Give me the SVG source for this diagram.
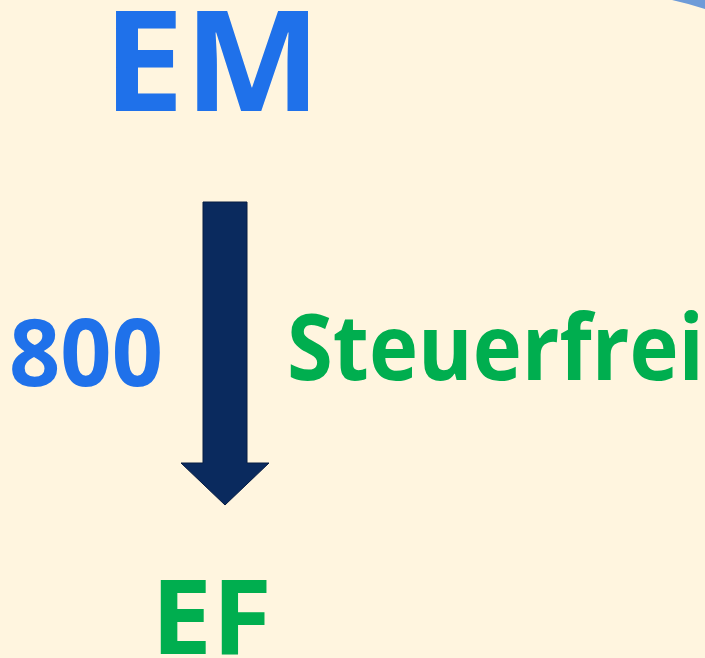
<svg xmlns="http://www.w3.org/2000/svg" width="705" height="658" viewBox="0 0 705 658">
<style>
.t{font-family:"Open Sans","Liberation Sans",sans-serif;font-weight:bold}
.b{fill:#1f71ea}
.g{fill:#00ae4f}
</style>
<rect width="705" height="658" fill="#fff5df"/>
<path d="M672,0 L705,0 L705,9 Q690,4 672,0 Z" fill="#6e9bd8"/>
<g id="em"><text class="t b" x="103" y="111" font-size="140" textLength="218" lengthAdjust="spacingAndGlyphs">EM</text></g>
<g id="ef"><text class="t g" x="151" y="654" font-size="104" textLength="121" lengthAdjust="spacingAndGlyphs">EF</text></g>
<g id="connectors">
<path d="M203,202 L247,202 L247,463 L269,463 L225,505 L181,463 L203,463 Z" fill="#0a2a5e" stroke="#061c42" stroke-width="1"/>
</g>
<g id="labels">
<text class="t b" x="9" y="386" font-size="93" textLength="154" lengthAdjust="spacingAndGlyphs">800</text>
<text class="t g" x="287" y="380" font-size="92" textLength="417" lengthAdjust="spacingAndGlyphs">Steuerfrei</text>
</g>
</svg>
